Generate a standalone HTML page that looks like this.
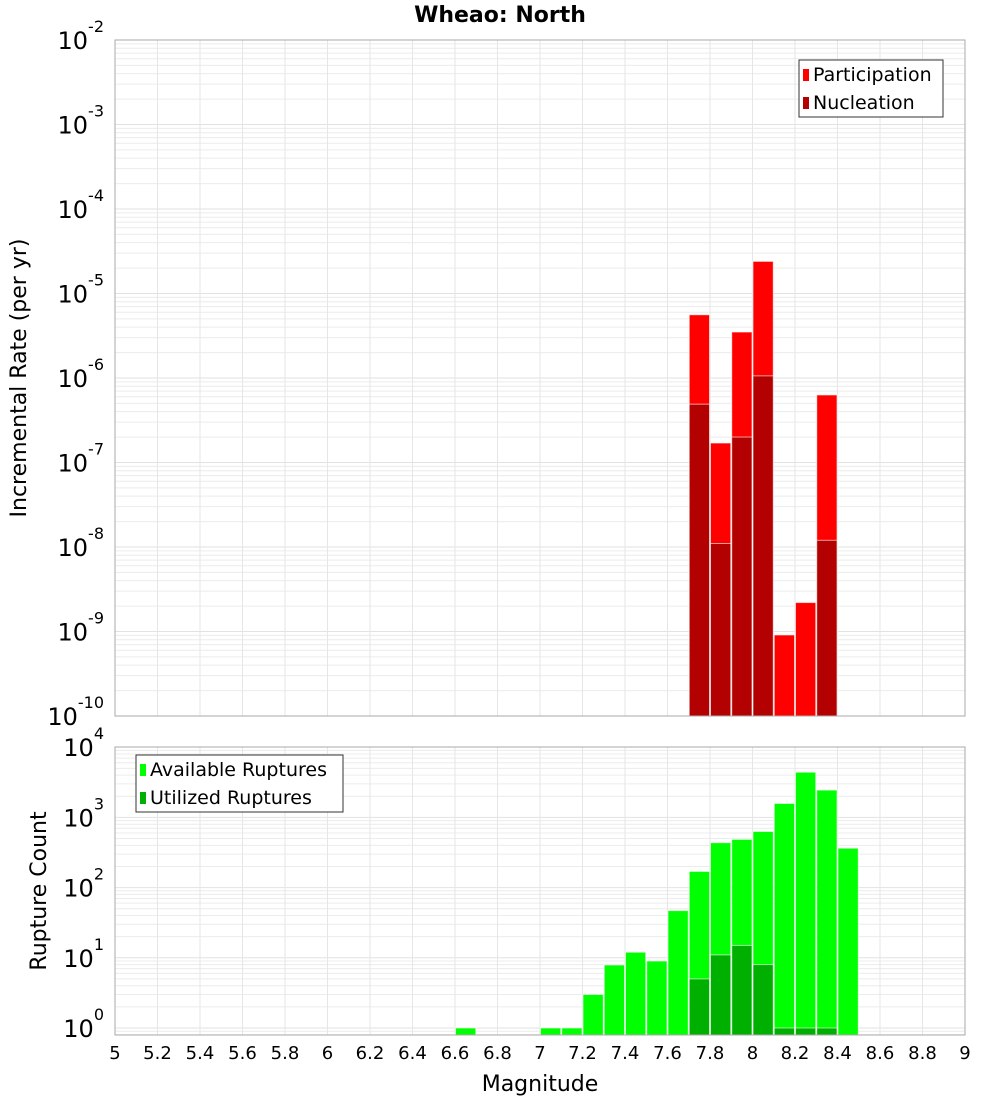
<!DOCTYPE html>
<html><head><meta charset="utf-8"><style>
body{margin:0;background:#fff;font-family:"DejaVu Sans","Liberation Sans",sans-serif}
svg text{font-family:"DejaVu Sans","Liberation Sans",sans-serif}
</style></head><body>
<svg id="c" width="1000" height="1100" xmlns="http://www.w3.org/2000/svg">
<text x="500" y="22" text-anchor="middle" font-size="22" font-weight="bold">Wheao: North</text>
<g id="top"></g>
<g id="bot"></g>
<text transform="translate(26,378) rotate(-90)" text-anchor="middle" font-size="22">Incremental Rate (per yr)</text>
<text transform="translate(46,891) rotate(-90)" text-anchor="middle" font-size="22">Rupture Count</text>
<text x="540" y="1091" text-anchor="middle" font-size="22">Magnitude</text>
</svg>
<script>
const rateBins=[7.75,7.85,7.95,8.05,8.15,8.25,8.35];
const participation=[5.6e-6,1.7e-7,3.5e-6,2.4e-5,9.1e-10,2.2e-9,6.3e-7];
const nucleation=[4.9e-7,1.1e-8,2.0e-7,1.06e-6,0,0,1.2e-8];
const countBins=[6.65,7.05,7.15,7.25,7.35,7.45,7.55,7.65,7.75,7.85,7.95,8.05,8.15,8.25,8.35,8.45];
const available=[1,1,1,3,7.9,12,9,47,170,436,486,630,1580,4400,2450,364];
const utilized=[0,0,0,0,0,0,0,0,5,11,15,8,1,1,1,0];
const xTicks=[5,5.2,5.4,5.6,5.8,6,6.2,6.4,6.6,6.8,7,7.2,7.4,7.6,7.8,8,8.2,8.4,8.6,8.8,9];
const NS="http://www.w3.org/2000/svg";
const X0=115,X1=965;
const xs=m=>X0+(m-5)/4*(X1-X0);
function mk(p,t,a){const e=document.createElementNS(NS,t);for(const k in a)e.setAttribute(k,a[k]);p.appendChild(e);return e;}
function panel(g,top,bottom,ymin,ymax,yfun){
  const bg=mk(g,'rect',{x:X0,y:top,width:X1-X0,height:bottom-top,fill:'#fff'});
  
  for(let d=Math.floor(ymin);d<ymax;d++){for(let k=1;k<10;k++){const v=Math.log10(k)+d;if(v<ymin||v>ymax)continue;const y=yfun(v);
    const l=mk(g,'line',{x1:X0,x2:X1,y1:y,y2:y,stroke:k==1?'#e2e2e2':'#ececec','stroke-width':1});
    }}
  xTicks.forEach(t=>{const l=mk(g,'line',{x1:xs(t),x2:xs(t),y1:top,y2:bottom,stroke:'#e6e6e6'});
    });
}
function ylabel(g,y,e){const t=mk(g,'text',{x:104,y:y+9,'text-anchor':'end','font-size':24});
  
  t.appendChild(document.createTextNode('10'));
  const s=mk(t,'tspan',{dy:-17,'font-size':16});s.textContent=e;}
function bar(g,m,v,yf,bottom,fill,name){if(!(v>0))return;const y=yf(Math.log10(v));if(y>=bottom)return;
  const r=mk(g,'rect',{x:xs(m-0.05)+0.5,y:y,width:xs(m+0.05)-xs(m-0.05)-1,height:bottom-y,fill:fill,stroke:'#fff','stroke-opacity':0.6,'stroke-width':1});
  }
function legend(g,x,y,w,items){const b=mk(g,'rect',{x:x,y:y,width:w,height:57,fill:'#fff',stroke:'#333'});
  
  items.forEach((it,i)=>{const s=mk(g,'rect',{x:x+4,y:y+9+i*28,width:6,height:12,fill:it[1]});
    
    const t=mk(g,'text',{x:x+14,y:y+21+i*28,'font-size':19});t.textContent=it[0];
    });}
// top panel
const T=document.getElementById('top');
const tT=40,tB=716,tmin=-10,tmax=-2;
const yT=v=>tB-(v-tmin)/(tmax-tmin)*(tB-tT);
panel(T,tT,tB,tmin,tmax,yT);
rateBins.forEach((m,i)=>{bar(T,m,participation[i],yT,tB,'#ff0000','participation-bar');bar(T,m,nucleation[i],yT,tB,'#b30000','nucleation-bar');});
mk(T,'rect',{x:X0,y:tT,width:X1-X0,height:tB-tT,fill:'none',stroke:'#aaa'});
for(let e=-10;e<=-2;e++)ylabel(T,yT(e),String(e));
legend(T,799,60,144,[['Participation','#ff0000'],['Nucleation','#b30000']]);
// bottom panel
const B=document.getElementById('bot');
const bT=747,bB=1035,b0=1028,dec=70.2;
const yB=v=>b0-v*dec;
const bmin=(b0-bB)/dec,bmax=4;
panel(B,bT,bB,bmin,bmax,yB);
countBins.forEach((m,i)=>{bar(B,m,available[i],yB,bB,'#00ff00','available-bar');bar(B,m,utilized[i],yB,bB,'#00b000','utilized-bar');});
mk(B,'rect',{x:X0,y:bT,width:X1-X0,height:bB-bT,fill:'none',stroke:'#aaa'});
for(let e=0;e<=4;e++)ylabel(B,yB(e),String(e));
legend(B,136,755,207,[['Available Ruptures','#00ff00'],['Utilized Ruptures','#00b000']]);
xTicks.forEach(t=>{const l=mk(B,'text',{x:xs(t),y:1059,'text-anchor':'middle','font-size':18});l.textContent=String(t);
  });
</script>
</body></html>
